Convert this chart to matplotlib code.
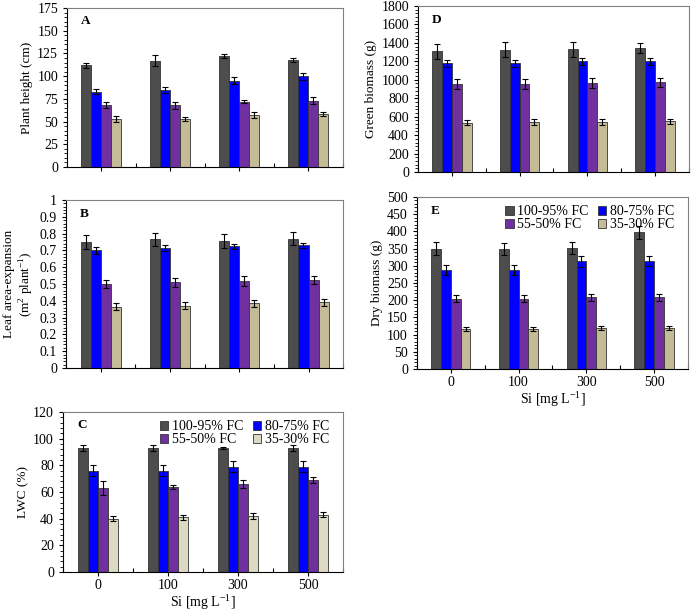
import numpy as np
import matplotlib
matplotlib.use('Agg')
import matplotlib.pyplot as plt
from matplotlib import font_manager
from matplotlib.ticker import MultipleLocator, AutoMinorLocator, FuncFormatter

names = sorted(set(f.name for f in font_manager.fontManager.ttflist))
serif = [n for n in names if 'Liberation Serif' in n or 'Times' in n]
plt.rcParams['font.family'] = serif + ['DejaVu Serif']
plt.rcParams['mathtext.fontset'] = 'custom'
plt.rcParams['mathtext.rm'] = serif[0] if serif else 'DejaVu Serif'

si = ['0', '100', '300', '500']
series = ['100-95% FC', '80-75% FC', '55-50% FC', '35-30% FC']

# Plant height (cm)
height = [[112, 117, 122, 118], [83, 85, 95, 100], [68, 68, 72, 73], [53, 53, 57, 58]]
height_err = [[3, 6, 2, 2], [3, 3, 4, 4], [3, 4, 2, 4], [3, 2, 3, 2]]
# Leaf area-expansion
leaf = [[0.75, 0.765, 0.755, 0.77], [0.70, 0.715, 0.725, 0.73],
        [0.50, 0.51, 0.52, 0.525], [0.365, 0.37, 0.385, 0.39]]
leaf_err = [[0.04, 0.04, 0.04, 0.04], [0.02, 0.02, 0.015, 0.015],
            [0.025, 0.025, 0.03, 0.025], [0.02, 0.02, 0.02, 0.02]]
# LWC (%)
lwc = [[93, 93, 93, 93], [76, 76, 79, 79], [63, 64, 66, 69], [40, 41, 42, 43]]
lwc_err = [[2, 2, 1, 2.5], [4, 4, 4, 4], [5, 1.5, 3, 2], [2, 2, 2, 2]]
# Green biomass (g)
green = [[1310, 1325, 1330, 1345], [1180, 1180, 1200, 1200],
         [955, 955, 965, 975], [535, 540, 545, 550]]
green_err = [[80, 80, 80, 50], [40, 40, 40, 40], [50, 50, 50, 50], [30, 30, 30, 30]]
# Dry biomass (g)
dry = [[350, 349, 352, 397], [287, 288, 313, 315], [204, 204, 208, 209], [117, 117, 119, 120]]
dry_err = [[18, 18, 18, 18], [15, 15, 15, 15], [10, 10, 10, 10], [6, 6, 6, 6]]

colors = ['#4d4d4d', '#0000ff', '#7030a0', '#c4bc96']
colors_light = ['#4d4d4d', '#0000ff', '#7030a0', '#ddd9c3']

fig = plt.figure(figsize=(6.93, 6.10), dpi=100)


def panel(rect, data, err, ylim, step, ylabel, letter, cols, xlabels=False, legend=False):
    ax = fig.add_axes(rect)
    x = np.arange(len(si))
    w = 0.145
    bars = []
    for i in range(4):
        b = ax.bar(x + (i - 1.5) * w, data[i], w, color=cols[i], edgecolor='#333333',
                   linewidth=0.6, yerr=err[i], capsize=2.5,
                   error_kw=dict(ecolor='black', elinewidth=0.8, capthick=0.8), label=series[i])
        bars.append(b)
    ax.set_xlim(-0.5, 3.5)
    ax.set_ylim(0, ylim)
    ax.yaxis.set_major_locator(MultipleLocator(step))
    ax.yaxis.set_minor_locator(AutoMinorLocator(5))
    ax.yaxis.set_major_formatter(FuncFormatter(lambda v, p: '%g' % round(v, 3)))
    ax.set_xticks(x)
    ax.set_xticks(np.arange(-0.5, 4, 1), minor=True)
    ax.tick_params(axis='x', which='major', direction='out', length=3, width=0.8, pad=2)
    ax.tick_params(axis='x', which='minor', direction='in', length=3, width=0.8)
    ax.tick_params(axis='y', which='major', direction='out', length=3, width=0.8, labelsize=10)
    ax.tick_params(axis='y', which='minor', direction='out', length=2, width=0.6)
    if xlabels:
        ax.set_xticklabels(si, fontsize=10)
        ax.set_xlabel('Si [mg L$^{-1}$]', fontsize=10, labelpad=0)
    else:
        ax.set_xticklabels([])
    ax.set_ylabel(ylabel, fontsize=9.5, labelpad=3)
    for s in ['top', 'right']:
        ax.spines[s].set_color('#808080')
    for s in ['left', 'bottom']:
        ax.spines[s].set_color('black')
    ax.text(0.05, 0.9, letter, transform=ax.transAxes, fontsize=9.5, fontweight='bold')
    if legend:
        h = [bars[0], bars[2], bars[1], bars[3]]
        lbl = [series[0], series[2], series[1], series[3]]
        ax.legend([b.patches[0] for b in h], lbl, ncol=2, loc='upper right',
                  bbox_to_anchor=(0.98, 1.0), frameon=False, fontsize=10,
                  handlelength=0.6, handleheight=0.6, handletextpad=0.25,
                  columnspacing=0.7, labelspacing=0.0, borderaxespad=0.2)
    return ax


panel([0.0967, 0.7262, 0.398, 0.2607], height, height_err, 175, 25,
      'Plant height (cm)', 'A', colors)
panel([0.0952, 0.3967, 0.4, 0.2754], leaf, leaf_err, 1, 0.1,
      'Leaf area-expansion\n(m$^2$ plant$^{-1}$)', 'B', colors)
panel([0.0909, 0.0623, 0.404, 0.2623], lwc, lwc_err, 120, 20,
      'LWC (%)', 'C', colors_light, xlabels=True, legend=True)
panel([0.6032, 0.718, 0.391, 0.2721], green, green_err, 1800, 200,
      'Green biomass (g)', 'D', colors)
panel([0.6017, 0.395, 0.391, 0.282], dry, dry_err, 500, 50,
      'Dry biomass (g)', 'E', colors, xlabels=True, legend=True)

fig.savefig('out.png', dpi=100)
